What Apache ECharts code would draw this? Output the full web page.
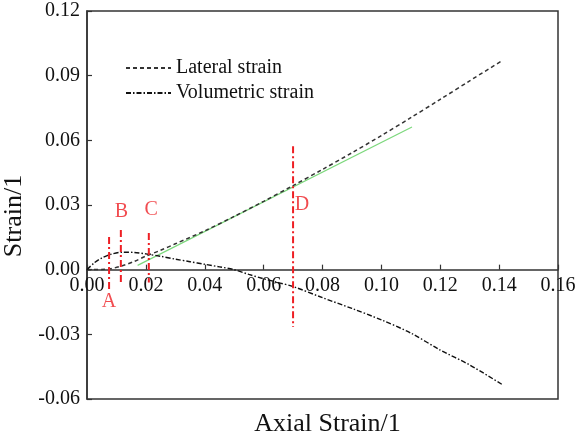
<!DOCTYPE html>
<html>
<head>
<meta charset="utf-8">
<script src="https://cdn.jsdelivr.net/npm/echarts@6/dist/echarts.min.js"></script>
<style>
    html, body { margin: 0; padding: 0; background: #fff; }
    #container { width: 584px; height: 442px; }
</style>
</head>
<body>
<div id="container"></div>
<script>
// axial strain vs strain
const lateralStrain = [
    [0, 0], [0.005, 0.0001], [0.008, 0.0004], [0.012, 0.0018], [0.016, 0.0038],
    [0.02, 0.0063], [0.025, 0.0090], [0.03, 0.0120], [0.04, 0.0180], [0.05, 0.0247],
    [0.06, 0.0317], [0.07, 0.0390], [0.08, 0.0465], [0.09, 0.0542], [0.10, 0.0622],
    [0.11, 0.0705], [0.12, 0.0790], [0.13, 0.0876], [0.1413, 0.0972]
];
const volumetricStrain = [
    [0, 0], [0.0025, 0.0032], [0.005, 0.0054], [0.008, 0.0071], [0.012, 0.0081],
    [0.016, 0.0080], [0.02, 0.0073], [0.025, 0.0062], [0.03, 0.0049], [0.035, 0.0037],
    [0.04, 0.0025], [0.045, 0.0013], [0.05, 0.0], [0.055, -0.0022], [0.06, -0.0042],
    [0.065, -0.0060], [0.07, -0.0078], [0.08, -0.0130], [0.09, -0.0180], [0.10, -0.0233],
    [0.11, -0.0294], [0.12, -0.0373], [0.13, -0.0442], [0.1413, -0.0535]
];
// straight green fit line
const fitLine = [[0.0172, 0.0020], [0.1104, 0.0662]];
// red marker lines: name, x, top, bottom
const markerNames = ['A', 'B', 'C', 'D'];
const markerX = [0.0075, 0.0115, 0.021, 0.07];
const markerTop = [0.0152, 0.0184, 0.017, 0.0573];
const markerBottom = [-0.0103, -0.0057, -0.006, -0.0266];
// where the letters sit
const markerLabelPos = [[0.0075, -0.0150], [0.0117, 0.0267], [0.0218, 0.0280], [0.0730, 0.0300]];

const xTicks = { min: 0, max: 0.16, interval: 0.02 };
const yTicks = { min: -0.06, max: 0.12, interval: 0.03 };

(function () {
    const font = "'Liberation Serif', 'Times New Roman', serif";
    const red = '#ee1f24';
    const grid = { left: 87, right: 26, top: 11, bottom: 43 };
    // x labels sit on the y=0 line, so pull the labelled axis up from the bottom
    const plotH = 442 - grid.top - grid.bottom;
    const zeroOffset = -plotH * (0 - yTicks.min) / (yTicks.max - yTicks.min);

    let series = [
        {
            name: 'Lateral strain',
            type: 'line',
            data: lateralStrain,
            smooth: 0.3,
            symbol: 'none',
            lineStyle: { color: '#333', width: 1.5, type: [4, 3] },
            z: 3
        },
        {
            name: 'Volumetric strain',
            type: 'line',
            data: volumetricStrain,
            smooth: 0.3,
            symbol: 'none',
            lineStyle: { color: '#111', width: 1.4, type: [5, 2, 1.5, 2] },
            z: 3
        },
        {
            name: 'fit',
            type: 'line',
            data: fitLine,
            symbol: 'none',
            lineStyle: { color: '#7cd87c', width: 1.2 },
            z: 2
        }
    ];

    // one little line series per red marker
    markerNames.forEach((n, i) => {
        series.push({
            name: 'marker ' + n,
            type: 'line',
            data: [[markerX[i], markerTop[i]], [markerX[i], markerBottom[i]]],
            symbol: 'none',
            lineStyle: { color: red, width: 2, type: [7, 3, 2, 3] },
            z: 4
        });
    });

    series.push({
        name: 'marker labels',
        type: 'scatter',
        symbolSize: 0,
        data: markerLabelPos.map((p, i) => ({ value: p, name: markerNames[i] })),
        label: {
            show: true,
            position: 'inside',
            formatter: '{b}',
            color: red,
            fontSize: 20,
            fontFamily: font
        },
        z: 5
    });

    const option = {
        animation: false,
        backgroundColor: '#fff',
        textStyle: { fontFamily: font },
        grid: {
            left: grid.left, right: grid.right, top: grid.top, bottom: grid.bottom,
            outerBoundsMode: 'none',
            containLabel: false,
            show: true,
            borderColor: '#333',
            borderWidth: 1.5
        },
        legend: {
            data: ['Lateral strain', 'Volumetric strain'],
            orient: 'vertical',
            left: 120,
            top: 53,
            itemWidth: 45,
            itemHeight: 10,
            itemGap: 5,
            itemStyle: { opacity: 0 },
            textStyle: { fontSize: 20, fontFamily: font, color: '#111' }
        },
        xAxis: [
            {
                type: 'value',
                position: 'bottom',
                offset: zeroOffset,
                min: xTicks.min, max: xTicks.max, interval: xTicks.interval,
                axisLine: { onZero: false, lineStyle: { color: '#333', width: 1.5 } },
                axisTick: { inside: true, length: 5, lineStyle: { color: '#333', width: 1.2 } },
                axisLabel: {
                    margin: 6,
                    fontSize: 20,
                    fontFamily: font,
                    color: '#111',
                    formatter: v => v.toFixed(2)
                },
                splitLine: { show: false }
            },
            {
                // only here for the title at the bottom
                type: 'value',
                position: 'bottom',
                min: xTicks.min, max: xTicks.max,
                axisLine: { show: false, onZero: false },
                axisTick: { show: false },
                axisLabel: { show: false },
                splitLine: { show: false },
                name: 'Axial Strain/1',
                nameLocation: 'middle',
                nameGap: 12,
                nameTextStyle: { fontSize: 26, fontFamily: font, color: '#111', padding: [0, 0, 0, 10] }
            }
        ],
        yAxis: {
            type: 'value',
            min: yTicks.min, max: yTicks.max, interval: yTicks.interval,
            axisLine: { show: true, lineStyle: { color: '#333', width: 1.5 } },
            axisTick: { show: true, inside: true, length: 5, lineStyle: { color: '#333', width: 1.2 } },
            axisLabel: {
                margin: 7,
                fontSize: 20,
                fontFamily: font,
                color: '#111',
                formatter: v => v.toFixed(2)
            },
            splitLine: { show: false },
            name: 'Strain/1',
            nameLocation: 'middle',
            nameGap: 52,
            nameTextStyle: { fontSize: 26, fontFamily: font, color: '#111', padding: [0, 22, 0, 0] }
        },
        series: series
    };

    var dom = document.getElementById('container');
    var myChart = echarts.init(dom, null, { renderer: 'canvas' });
    myChart.setOption(option);
})();
</script>
</body>
</html>
